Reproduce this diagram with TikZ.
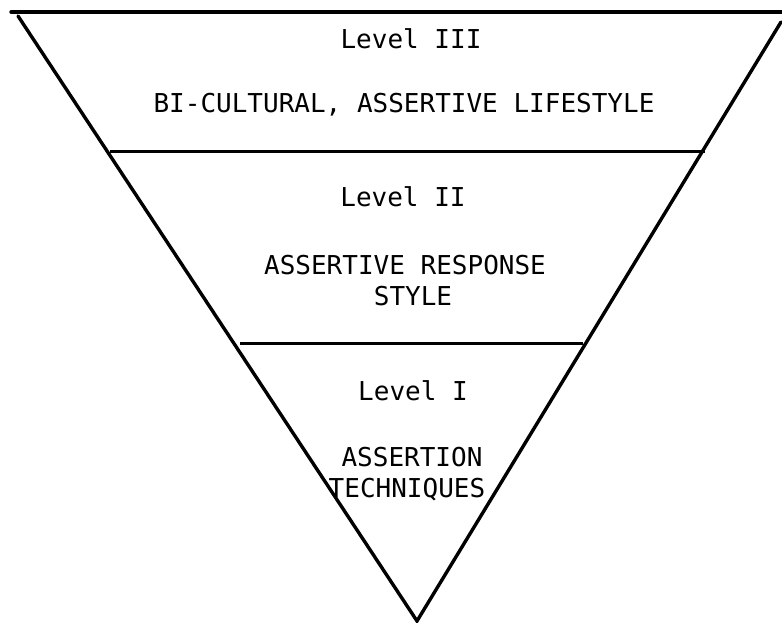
\documentclass[tikz,border=0pt]{standalone}
\usepackage{fontspec}
\setmonofont{DejaVu Sans Mono}
\begin{document}
\begin{tikzpicture}[x=1pt,y=-1pt,
  edge/.style={line width=3.4pt,line cap=round},
  divider/.style={line width=3pt},
  lbl/.style={font=\ttfamily\fontsize{26}{31}\selectfont,align=center,inner sep=0pt,anchor=base}]
\useasboundingbox (0,0) rectangle (782,623);
% vertices
\coordinate (tl) at (11,12);
\coordinate (tr) at (782,12);
\coordinate (lt) at (18,16);
\coordinate (rt) at (781,22);
\coordinate (apex) at (417,621);
\coordinate (d1l) at (110,152);
\coordinate (d1r) at (705,152);
\coordinate (d2l) at (240,343);
\coordinate (d2r) at (583,343);
% outline
\draw[edge] (tl) -- (tr);
\draw[edge] (lt) -- (apex) -- (rt);
\draw[divider] (d1l) -- (d1r);
\draw[divider] (d2l) -- (d2r);
% texts
\node[lbl] (l3) at (411,49) {Level III};
\node[lbl] (t3) at (404,113) {BI-CULTURAL, ASSERTIVE LIFESTYLE};
\node[lbl] (l2) at (403,207) {Level II};
\node[lbl] (t2a) at (405,274) {ASSERTIVE RESPONSE};
\node[lbl] (t2b) at (413,305) {STYLE};
\node[lbl] (l1) at (413,400) {Level I};
\node[lbl] (t1a) at (412,466) {ASSERTION};
\node[lbl] (t1b) at (407,497) {TECHNIQUES};
\end{tikzpicture}
\end{document}
